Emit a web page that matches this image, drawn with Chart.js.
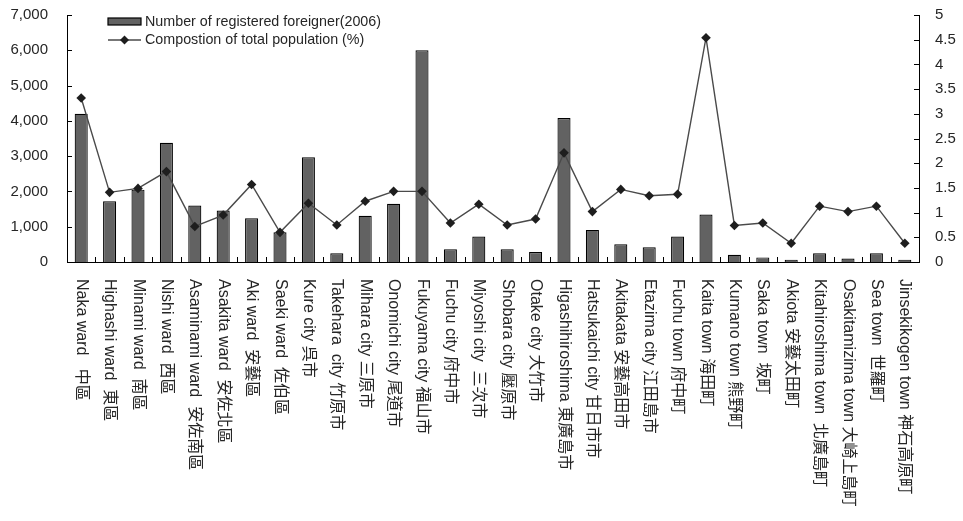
<!DOCTYPE html>
<html>
<head>
<meta charset="utf-8">
<script src="https://cdn.jsdelivr.net/npm/chart.js@4.4.1/dist/chart.umd.min.js"></script>
<style>
  html, body { margin: 0; padding: 0; background: #fff; }
  #wrap { width: 963px; height: 521px; }
</style>
</head>
<body>
<div id="wrap"><canvas id="c" width="963" height="521"></canvas></div>
<script>
// Registered foreigners by municipality, Hiroshima Prefecture (2006)
const categories = [
  'Naka ward   中區', 'Highashi ward  東區', 'Minami ward  南區', 'Nishi ward  西區',
  'Asaminami ward  安佐南區', 'Asakita ward  安佐北區', 'Aki ward  安藝區', 'Saeki ward  佐伯區',
  'Kure city 呉市', 'Takehara  city 竹原市', 'Mihara city 三原市', 'Onomichi city 尾道市',
  'Fukuyama city 福山市', 'Fuchu city 府中市', 'Miyoshi city  三次市', 'Shobara city 壓原市',
  'Otake city 大竹市', 'Higashihiroshima 東廣島市', 'Hatsukaichi city 甘日市市', 'Akitakata 安藝高田市',
  'Etazima city 江田島市', 'Fuchu town 府中町', 'Kaita town 海田町', 'Kumano town 熊野町',
  'Saka town  坂町', 'Akiota 安藝太田町', 'Kitahiroshima town  北廣島町', 'Osakitamizima town 大崎上島町',
  'Sea town  世羅町', 'Jinsekikogen town 神石高原町'
];

const registeredForeigners = [
  4200, 1720, 2050, 3380, 1600, 1460, 1240, 840, 2970, 245,
  1310, 1650, 6000, 360, 720, 360, 280, 4080, 910, 500,
  420, 720, 1345, 205, 130, 65, 245, 100, 245, 65
];

const populationShare = [
  3.32, 1.41, 1.49, 1.83, 0.72, 0.95, 1.57, 0.60, 1.19, 0.75,
  1.23, 1.43, 1.43, 0.79, 1.17, 0.75, 0.87, 2.21, 1.02, 1.47,
  1.34, 1.37, 4.54, 0.74, 0.79, 0.38, 1.13, 1.02, 1.13, 0.38
];

const countTicks = [0, 1000, 2000, 3000, 4000, 5000, 6000, 7000];
const shareTicks = [0, 0.5, 1, 1.5, 2, 2.5, 3, 3.5, 4, 4.5, 5];

const seriesLabels = ['Number of registered foreigner(2006)', 'Compostion of total population (%)'];

const FONT = '"Liberation Sans", Arial, "Noto Sans CJK TC", sans-serif';
const TEXT = '#262626';
const BAR_FILL = '#626262';
const LINE_COLOR = '#4a4a4a';
const MARK_COLOR = '#1e1e1e';

// Inward tick marks on all three axes
const axisTicks = {
  id: 'axisTicks',
  afterDatasetsDraw(chart) {
    const ctx = chart.ctx;
    const xs = chart.scales.x, yl = chart.scales.y, yr = chart.scales.y1;
    const area = chart.chartArea;
    ctx.save();
    ctx.strokeStyle = '#000';
    ctx.lineWidth = 1;
    ctx.beginPath();
    for (let i = 1; i < categories.length; i++) {
      const x = Math.round((xs.getPixelForValue(i - 1) + xs.getPixelForValue(i)) / 2) + 0.5;
      ctx.moveTo(x, area.bottom);
      ctx.lineTo(x, area.bottom - 5);
    }
    countTicks.forEach(v => {
      const y = Math.round(yl.getPixelForValue(v)) + 0.5;
      ctx.moveTo(area.left, y);
      ctx.lineTo(area.left + 5, y);
    });
    shareTicks.forEach(v => {
      const y = Math.round(yr.getPixelForValue(v)) + 0.5;
      ctx.moveTo(area.right, y);
      ctx.lineTo(area.right - 5, y);
    });
    ctx.stroke();
    ctx.restore();
  }
};

// Category names written downward beneath each bar
const verticalLabels = {
  id: 'verticalLabels',
  afterDraw(chart) {
    const ctx = chart.ctx;
    const xs = chart.scales.x;
    const top = chart.chartArea.bottom + 17;
    ctx.save();
    ctx.fillStyle = TEXT;
    ctx.font = '16px ' + FONT;
    ctx.textAlign = 'left';
    ctx.textBaseline = 'middle';
    categories.forEach((label, i) => {
      const x = xs.getPixelForValue(i);
      ctx.save();
      ctx.translate(x, top);
      ctx.rotate(Math.PI / 2);
      ctx.fillText(label, 0, 0);
      ctx.restore();
    });
    ctx.restore();
  }
};

// Legend in the upper-left of the plot
const insetLegend = {
  id: 'insetLegend',
  afterDraw(chart) {
    const ctx = chart.ctx;
    const x0 = 108, x1 = 141;
    ctx.save();
    ctx.fillStyle = BAR_FILL;
    ctx.strokeStyle = '#000';
    ctx.lineWidth = 1.2;
    ctx.fillRect(x0, 18, x1 - x0, 7);
    ctx.strokeRect(x0, 18, x1 - x0, 7);

    ctx.strokeStyle = LINE_COLOR;
    ctx.lineWidth = 1.4;
    ctx.beginPath();
    ctx.moveTo(x0, 40);
    ctx.lineTo(x1, 40);
    ctx.stroke();
    ctx.fillStyle = MARK_COLOR;
    ctx.beginPath();
    const cx = (x0 + x1) / 2, r = 4.5;
    ctx.moveTo(cx, 40 - r);
    ctx.lineTo(cx + r, 40);
    ctx.lineTo(cx, 40 + r);
    ctx.lineTo(cx - r, 40);
    ctx.closePath();
    ctx.fill();

    ctx.fillStyle = TEXT;
    ctx.font = '14.3px ' + FONT;
    ctx.textAlign = 'left';
    ctx.textBaseline = 'middle';
    ctx.fillText(chart.data.datasets[0].label, 145, 22);
    ctx.fillText(chart.data.datasets[1].label, 145, 40);
    ctx.restore();
  }
};

new Chart(document.getElementById('c'), {
  data: {
    labels: categories,
    datasets: [
      {
        type: 'bar',
        label: seriesLabels[0],
        data: registeredForeigners,
        yAxisID: 'y',
        backgroundColor: BAR_FILL,
        borderColor: '#000',
        borderWidth: 1.2,
        barPercentage: 0.46,
        categoryPercentage: 1,
        order: 2
      },
      {
        type: 'line',
        label: seriesLabels[1],
        data: populationShare,
        yAxisID: 'y1',
        borderColor: LINE_COLOR,
        borderWidth: 1.4,
        pointStyle: 'rectRot',
        pointRadius: 4.8,
        pointBackgroundColor: MARK_COLOR,
        pointBorderColor: MARK_COLOR,
        pointBorderWidth: 0,
        tension: 0,
        clip: false,
        order: 1
      }
    ]
  },
  options: {
    responsive: false,
    animation: false,
    layout: { autoPadding: false, padding: { top: 15, left: 0, right: 0, bottom: 0 } },
    plugins: {
      legend: { display: false },
      tooltip: { enabled: false }
    },
    scales: {
      x: {
        type: 'category',
        offset: true,
        grid: { display: false, drawTicks: false },
        border: { display: true, color: '#000', width: 1 },
        ticks: { display: false },
        afterFit(scale) { scale.height = 259; }
      },
      y: {
        position: 'left',
        min: 0,
        max: 7000,
        afterBuildTicks(scale) { scale.ticks = countTicks.map(v => ({ value: v })); },
        // tick length only spaces the labels; the marks themselves are drawn inward by axisTicks
        grid: { display: false, drawTicks: true, tickLength: 19 },
        border: { display: true, color: '#000', width: 1 },
        ticks: {
          padding: 0,
          color: TEXT,
          font: { family: FONT, size: 15 },
          callback: v => Number(v).toLocaleString('en-US')
        },
        afterFit(scale) { scale.width = 67; }
      },
      y1: {
        position: 'right',
        min: 0,
        max: 5,
        afterBuildTicks(scale) { scale.ticks = shareTicks.map(v => ({ value: v })); },
        grid: { display: false, drawTicks: true, tickLength: 16 },
        border: { display: true, color: '#000', width: 1 },
        ticks: {
          padding: 0,
          color: TEXT,
          font: { family: FONT, size: 15 },
          callback: v => String(v)
        },
        afterFit(scale) { scale.width = 44; }
      }
    }
  },
  plugins: [axisTicks, verticalLabels, insetLegend]
});
</script>
</body>
</html>
